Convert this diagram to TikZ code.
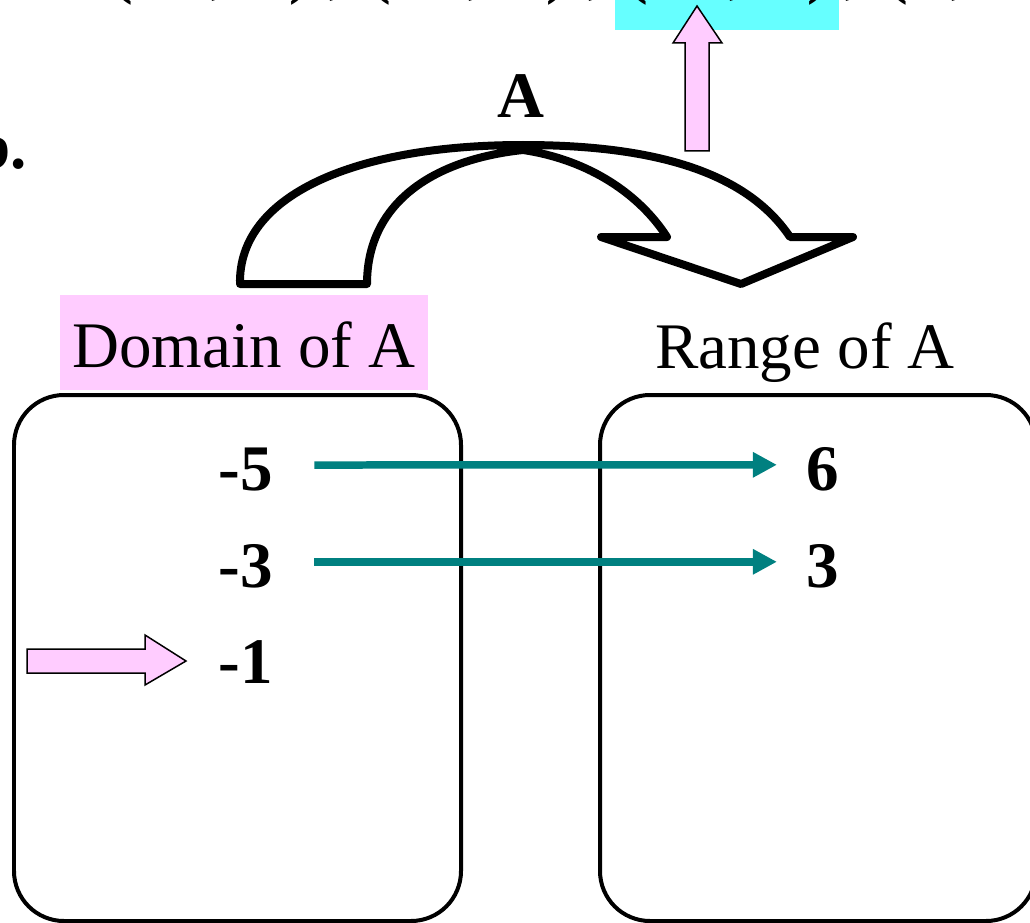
\documentclass[tikz,border=0pt]{standalone}
\usepackage{fontspec}
\setmainfont{Liberation Serif}
\usepackage{xcolor}
\usetikzlibrary{arrows.meta,positioning,calc}
\definecolor{pinkfill}{HTML}{FFCCFF}
\definecolor{cyanfill}{HTML}{66FFFF}
\definecolor{tealarr}{HTML}{008080}
\newcommand{\slidefont}{\fontsize{37}{44}\selectfont}

\begin{document}
\begin{tikzpicture}[
    x=0.02cm, y=-0.02cm,
    lbl/.style={font=\slidefont, inner sep=0},
    num/.style={font=\slidefont\bfseries, inner sep=0},
    setbox/.style={draw, line width=0.08cm, rounded corners=1cm},
    maparr/.style={-{Triangle[length=0.48cm,width=0.48cm]}, line width=0.15cm, draw=tealarr},
    blockarr/.style={draw, fill=pinkfill, line width=0.03cm, line join=miter},
    bigturn/.style={draw, line width=0.16cm, line join=round},
]
    \useasboundingbox (0,0) rectangle (1030,922);
    \clip (0,0) rectangle (1030,922);

    % Set of pairs (cut off at the top)
    \fill[cyanfill] (615,-10) rectangle (839,30);
    \foreach \px/\ch [count=\i] in {80/\{, 122/(, 220/{,}, 300/), 338/{,}, 380/(, 477/{,}, 557/), 597/{,}, 637/(, 738/{,}, 818/), 854/{,}, 897/(, 960/{,}}
        \node[num, anchor=base] (pair\i) at (\px,-8) {\ch};
    \draw[blockarr] (685,151) -- (685,43) -- (673,43) -- (697,6) -- (722,43) -- (709,43) -- (709,151) -- cycle;

    % Part label
    \node[num, anchor=base west] (part) at (-26,169) {b.};

    % Function name and curved arrow
    \node[num, anchor=base] (fname) at (521,118) {A};
    \draw[bigturn] (240,284) .. controls (238,195) and (355,145) .. (523,145)
        .. controls (650,145) and (745,170) .. (790,237) -- (853,237) -- (741,284)
        -- (601,237) -- (667,237) .. controls (640,195) and (590,160) .. (523,150)
        .. controls (430,160) and (367,205) .. (367,284) -- cycle;

    % Domain and range
    \node[lbl, fill=pinkfill, minimum width=7.36cm, minimum height=1.9cm, text height=1.02cm, text depth=0pt] (domlbl) at (244,342.5) {Domain of A};
    \node[lbl, anchor=base] (rnglbl) at (805,368) {Range of A};
    \draw[setbox] (14,395) rectangle (461,921);
    \draw[setbox] (600,395) rectangle (1036,921);

    \node[num, anchor=base] (dm5) at (246,490) {-5};
    \node[num, anchor=base] (dm3) at (246,587) {-3};
    \node[num, anchor=base] (dm1) at (246,683) {-1};
    \node[num, anchor=base] (rg6) at (823,490) {6};
    \node[num, anchor=base] (rg3) at (823,587) {3};

    \draw[maparr, shorten <=0.82cm, shorten >=0.59cm] ([yshift=0.08cm]dm5.east) -- ([yshift=0.08cm]rg6.west);
    \draw[maparr, shorten <=0.82cm, shorten >=0.59cm] ([yshift=0.08cm]dm3.east) -- ([yshift=0.08cm]rg3.west);

    % Pointer to -1
    \draw[blockarr] (27,649) -- (145,649) -- (145,635) -- (186,661) -- (145,685) -- (145,673) -- (27,673) -- cycle;
\end{tikzpicture}
\end{document}
